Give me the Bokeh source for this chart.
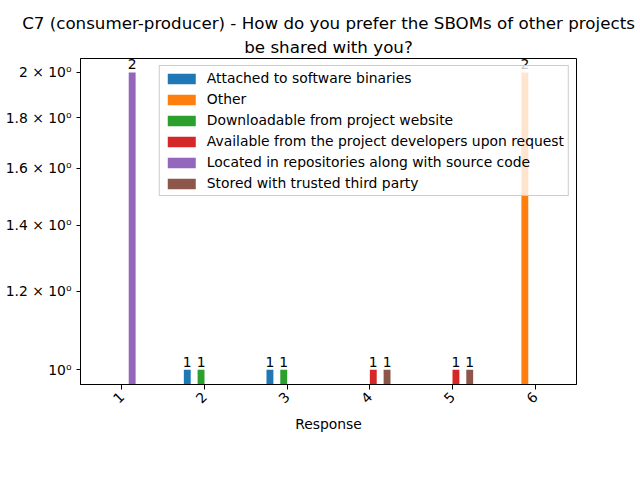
import math
from bokeh.plotting import figure
from bokeh.models import (ColumnDataSource, Range1d, FixedTicker, Title, Legend, LegendItem)
from bokeh.core.properties import value
from bokeh.embed import file_html
from bokeh.resources import INLINE

categories = ["1", "2", "3", "4", "5", "6"]
series_names = [
    "Attached to software binaries",
    "Other",
    "Downloadable from project website",
    "Available from the project developers upon request",
    "Located in repositories along with source code",
    "Stored with trusted third party",
]
attached = [0, 1, 1, 0, 0, 0]
other = [0, 0, 0, 0, 0, 2]
downloadable = [0, 1, 1, 0, 0, 0]
available = [0, 0, 0, 1, 1, 0]
located = [2, 0, 0, 0, 0, 0]
stored = [0, 0, 0, 1, 1, 0]
series_values = [attached, other, downloadable, available, located, stored]
colors = ["#1f77b4", "#ff7f0e", "#2ca02c", "#d62728", "#9467bd", "#8c564b"]

y_ticks = [1.0, 1.2, 1.4, 1.6, 1.8, 2.0]
y_tick_labels = ["10⁰", "1.2 × 10⁰", "1.4 × 10⁰", "1.6 × 10⁰", "1.8 × 10⁰", "2 × 10⁰"]

FONT = "DejaVu Sans"
FS = "13.9px"
TFS = "16.7px"

p = figure(width=640, height=480, output_backend="svg", toolbar_location=None,
           y_axis_type="log",
           x_range=Range1d(0.5, 6.5), y_range=Range1d(0.966, 2.066),
           min_border_left=80, min_border_right=64, min_border_top=58, min_border_bottom=96)
p.background_fill_color = "white"
p.border_fill_color = "white"
p.outline_line_color = "black"
p.outline_line_alpha = 1.0
p.outline_line_width = 1
p.xgrid.visible = False
p.ygrid.visible = False

n = len(series_names)
total_w = 0.5
bw = total_w / n

items = []
for i, (name, vals, col) in enumerate(zip(series_names, series_values, colors)):
    off = (i - (n - 1) / 2) * bw
    xs = [k + 1 + off for k, v in enumerate(vals) if v > 0]
    ys = [v for v in vals if v > 0]
    src = ColumnDataSource(dict(x=xs, top=ys, bottom=[0.5] * len(ys), label=[str(v) for v in ys]))
    r = p.vbar(x="x", top="top", bottom="bottom", width=bw, fill_color=col, line_color=None, source=src)
    p.text(x="x", y="top", text="label", source=src, text_align="center", text_baseline="bottom",
           text_font=value(FONT), text_font_size=FS, text_color="black", y_offset=-3)
    items.append(LegendItem(label=name, renderers=[r]))

legend = Legend(items=items, location="top_right", margin=7, padding=4,
                glyph_width=35, glyph_height=13, label_height=13, spacing=5,
                label_standoff=8, label_text_font=FONT, label_text_font_size=FS,
                label_text_color="black",
                border_line_color="#cccccc", border_line_alpha=1.0,
                background_fill_alpha=0.8)
p.add_layout(legend, "center")

# x axis
p.xaxis.ticker = FixedTicker(ticks=[1, 2, 3, 4, 5, 6])
p.xaxis.major_label_overrides = {k + 1: c for k, c in enumerate(categories)}
p.xaxis.major_label_orientation = math.pi / 4
p.xaxis.axis_label = "Response"
p.xaxis.axis_label_text_font = FONT
p.xaxis.axis_label_text_font_size = FS
p.xaxis.axis_label_text_font_style = "normal"
p.xaxis.axis_label_text_color = "black"
p.xaxis.major_label_text_font = FONT
p.xaxis.major_label_text_font_size = FS
p.xaxis.major_label_text_color = "black"
p.xaxis.minor_tick_line_color = None
p.xaxis.major_tick_out = 5
p.xaxis.major_tick_in = 0
p.xaxis.axis_line_color = "black"

# y axis
p.yaxis.ticker = FixedTicker(ticks=y_ticks)
p.yaxis.major_label_overrides = {t: l for t, l in zip(y_ticks, y_tick_labels)}
p.yaxis.major_label_text_font = FONT
p.yaxis.major_label_text_font_size = FS
p.yaxis.major_label_text_color = "black"
p.yaxis.minor_tick_line_color = None
p.yaxis.major_tick_out = 4
p.yaxis.major_tick_in = 0
p.yaxis.axis_line_color = "black"

# title (two lines)
p.title.text = "C7 (consumer-producer) - How do you prefer the SBOMs of other projects"
p.title.align = "center"
p.title.text_font = FONT
p.title.text_font_size = TFS
p.title.text_font_style = "normal"
p.title.text_color = "black"
p.title.standoff = 0
t2 = Title(text="be shared with you?",
           align="center", text_font=FONT, text_font_size=TFS, text_font_style="normal",
           text_color="black", standoff=4)
p.add_layout(t2, "above")

open("out.html", "w").write(file_html(p, INLINE))
